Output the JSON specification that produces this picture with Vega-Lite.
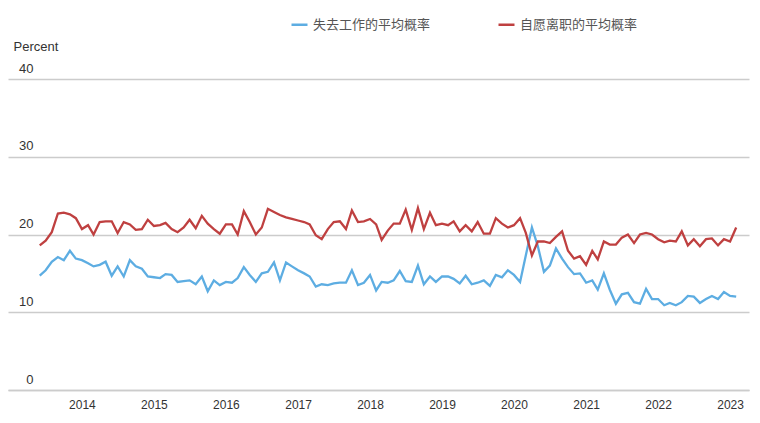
{
  "$schema": "https://vega.github.io/schema/vega-lite/v6.json",
  "autosize": {"type": "none"},
  "width": 741,
  "height": 311,
  "padding": {"left": 8, "top": 79, "right": 11, "bottom": 33},
  "background": "white",
  "config": {
    "view": {"stroke": null},
    "font": "Liberation Sans"
  },
  "datasets": {
    "years": [
      {"year": "2014-01-01"}, {"year": "2015-01-01"}, {"year": "2016-01-01"}, {"year": "2017-01-01"}, {"year": "2018-01-01"},
      {"year": "2019-01-01"}, {"year": "2020-01-01"}, {"year": "2021-01-01"}, {"year": "2022-01-01"}, {"year": "2023-01-01"}
    ],
    "probs": [
      {"date": "2013-06-01", "lose": 14.7, "quit": 18.6},
      {"date": "2013-07-01", "lose": 15.4, "quit": 19.2},
      {"date": "2013-08-01", "lose": 16.5, "quit": 20.3},
      {"date": "2013-09-01", "lose": 17.1, "quit": 22.7},
      {"date": "2013-10-01", "lose": 16.7, "quit": 22.8},
      {"date": "2013-11-01", "lose": 17.9, "quit": 22.6},
      {"date": "2013-12-01", "lose": 16.9, "quit": 22.1},
      {"date": "2014-01-01", "lose": 16.7, "quit": 20.7},
      {"date": "2014-02-01", "lose": 16.3, "quit": 21.2},
      {"date": "2014-03-01", "lose": 15.9, "quit": 20.0},
      {"date": "2014-04-01", "lose": 16.1, "quit": 21.6},
      {"date": "2014-05-01", "lose": 16.5, "quit": 21.7},
      {"date": "2014-06-01", "lose": 14.7, "quit": 21.7},
      {"date": "2014-07-01", "lose": 15.9, "quit": 20.2},
      {"date": "2014-08-01", "lose": 14.6, "quit": 21.6},
      {"date": "2014-09-01", "lose": 16.7, "quit": 21.3},
      {"date": "2014-10-01", "lose": 15.9, "quit": 20.6},
      {"date": "2014-11-01", "lose": 15.6, "quit": 20.7},
      {"date": "2014-12-01", "lose": 14.6, "quit": 21.9},
      {"date": "2015-01-01", "lose": 14.5, "quit": 21.1},
      {"date": "2015-02-01", "lose": 14.4, "quit": 21.2},
      {"date": "2015-03-01", "lose": 14.9, "quit": 21.5},
      {"date": "2015-04-01", "lose": 14.8, "quit": 20.7},
      {"date": "2015-05-01", "lose": 13.9, "quit": 20.3},
      {"date": "2015-06-01", "lose": 14.0, "quit": 20.9},
      {"date": "2015-07-01", "lose": 14.1, "quit": 21.9},
      {"date": "2015-08-01", "lose": 13.6, "quit": 20.8},
      {"date": "2015-09-01", "lose": 14.6, "quit": 22.4},
      {"date": "2015-10-01", "lose": 12.7, "quit": 21.4},
      {"date": "2015-11-01", "lose": 14.1, "quit": 20.7},
      {"date": "2015-12-01", "lose": 13.5, "quit": 20.1},
      {"date": "2016-01-01", "lose": 13.9, "quit": 21.3},
      {"date": "2016-02-01", "lose": 13.8, "quit": 21.3},
      {"date": "2016-03-01", "lose": 14.4, "quit": 20.0},
      {"date": "2016-04-01", "lose": 15.8, "quit": 23.0},
      {"date": "2016-05-01", "lose": 14.8, "quit": 21.6},
      {"date": "2016-06-01", "lose": 13.9, "quit": 20.0},
      {"date": "2016-07-01", "lose": 15.0, "quit": 20.9},
      {"date": "2016-08-01", "lose": 15.2, "quit": 23.3},
      {"date": "2016-09-01", "lose": 16.4, "quit": 22.9},
      {"date": "2016-10-01", "lose": 14.1, "quit": 22.5},
      {"date": "2016-11-01", "lose": 16.4, "quit": 22.2},
      {"date": "2016-12-01", "lose": 15.9, "quit": 22.0},
      {"date": "2017-01-01", "lose": 15.4, "quit": 21.8},
      {"date": "2017-02-01", "lose": 15.0, "quit": 21.6},
      {"date": "2017-03-01", "lose": 14.6, "quit": 21.3},
      {"date": "2017-04-01", "lose": 13.3, "quit": 19.9},
      {"date": "2017-05-01", "lose": 13.6, "quit": 19.4},
      {"date": "2017-06-01", "lose": 13.5, "quit": 20.7},
      {"date": "2017-07-01", "lose": 13.7, "quit": 21.6},
      {"date": "2017-08-01", "lose": 13.8, "quit": 21.7},
      {"date": "2017-09-01", "lose": 13.8, "quit": 20.7},
      {"date": "2017-10-01", "lose": 15.4, "quit": 23.1},
      {"date": "2017-11-01", "lose": 13.5, "quit": 21.6},
      {"date": "2017-12-01", "lose": 13.8, "quit": 21.7},
      {"date": "2018-01-01", "lose": 14.8, "quit": 22.0},
      {"date": "2018-02-01", "lose": 12.8, "quit": 21.3},
      {"date": "2018-03-01", "lose": 13.9, "quit": 19.3},
      {"date": "2018-04-01", "lose": 13.8, "quit": 20.5},
      {"date": "2018-05-01", "lose": 14.1, "quit": 21.4},
      {"date": "2018-06-01", "lose": 15.3, "quit": 21.4},
      {"date": "2018-07-01", "lose": 14.0, "quit": 23.2},
      {"date": "2018-08-01", "lose": 13.9, "quit": 20.6},
      {"date": "2018-09-01", "lose": 16.0, "quit": 23.4},
      {"date": "2018-10-01", "lose": 13.6, "quit": 20.7},
      {"date": "2018-11-01", "lose": 14.6, "quit": 22.8},
      {"date": "2018-12-01", "lose": 13.9, "quit": 21.2},
      {"date": "2019-01-01", "lose": 14.6, "quit": 21.4},
      {"date": "2019-02-01", "lose": 14.6, "quit": 21.2},
      {"date": "2019-03-01", "lose": 14.3, "quit": 21.7},
      {"date": "2019-04-01", "lose": 13.7, "quit": 20.4},
      {"date": "2019-05-01", "lose": 14.7, "quit": 21.2},
      {"date": "2019-06-01", "lose": 13.6, "quit": 20.4},
      {"date": "2019-07-01", "lose": 13.8, "quit": 21.6},
      {"date": "2019-08-01", "lose": 14.1, "quit": 20.1},
      {"date": "2019-09-01", "lose": 13.4, "quit": 20.1},
      {"date": "2019-10-01", "lose": 14.8, "quit": 22.1},
      {"date": "2019-11-01", "lose": 14.5, "quit": 21.4},
      {"date": "2019-12-01", "lose": 15.4, "quit": 20.9},
      {"date": "2020-01-01", "lose": 14.8, "quit": 21.2},
      {"date": "2020-02-01", "lose": 13.9, "quit": 22.1},
      {"date": "2020-03-01", "lose": 17.3, "quit": 20.2},
      {"date": "2020-04-01", "lose": 20.9, "quit": 17.3},
      {"date": "2020-05-01", "lose": 18.5, "quit": 19.1},
      {"date": "2020-06-01", "lose": 15.2, "quit": 19.1},
      {"date": "2020-07-01", "lose": 16.0, "quit": 18.9},
      {"date": "2020-08-01", "lose": 18.2, "quit": 19.7},
      {"date": "2020-09-01", "lose": 16.9, "quit": 20.4},
      {"date": "2020-10-01", "lose": 15.8, "quit": 17.9},
      {"date": "2020-11-01", "lose": 14.9, "quit": 16.9},
      {"date": "2020-12-01", "lose": 15.0, "quit": 17.2},
      {"date": "2021-01-01", "lose": 13.8, "quit": 16.1},
      {"date": "2021-02-01", "lose": 14.1, "quit": 17.9},
      {"date": "2021-03-01", "lose": 12.9, "quit": 16.8},
      {"date": "2021-04-01", "lose": 15.0, "quit": 19.1},
      {"date": "2021-05-01", "lose": 12.9, "quit": 18.7},
      {"date": "2021-06-01", "lose": 11.1, "quit": 18.7},
      {"date": "2021-07-01", "lose": 12.3, "quit": 19.6},
      {"date": "2021-08-01", "lose": 12.5, "quit": 20.0},
      {"date": "2021-09-01", "lose": 11.3, "quit": 18.9},
      {"date": "2021-10-01", "lose": 11.1, "quit": 20.0},
      {"date": "2021-11-01", "lose": 13.0, "quit": 20.2},
      {"date": "2021-12-01", "lose": 11.7, "quit": 20.0},
      {"date": "2022-01-01", "lose": 11.7, "quit": 19.4},
      {"date": "2022-02-01", "lose": 10.9, "quit": 19.0},
      {"date": "2022-03-01", "lose": 11.2, "quit": 19.2},
      {"date": "2022-04-01", "lose": 10.9, "quit": 19.1},
      {"date": "2022-05-01", "lose": 11.3, "quit": 20.4},
      {"date": "2022-06-01", "lose": 12.1, "quit": 18.6},
      {"date": "2022-07-01", "lose": 12.0, "quit": 19.4},
      {"date": "2022-08-01", "lose": 11.2, "quit": 18.5},
      {"date": "2022-09-01", "lose": 11.7, "quit": 19.4},
      {"date": "2022-10-01", "lose": 12.1, "quit": 19.5},
      {"date": "2022-11-01", "lose": 11.7, "quit": 18.6},
      {"date": "2022-12-01", "lose": 12.6, "quit": 19.4},
      {"date": "2023-01-01", "lose": 12.1, "quit": 19.1},
      {"date": "2023-02-01", "lose": 12.0, "quit": 20.9}
    ]
  },
  "layer": [
    {
      "data": {"name": "years"},
      "mark": {"type": "rule", "color": "#b8b8b8", "strokeWidth": 1},
      "encoding": {
        "x": {"field": "year", "type": "temporal"},
        "y": {"datum": 0.15, "type": "quantitative"},
        "y2": {"datum": 1.1}
      }
    },
    {
      "data": {"name": "probs"},
      "transform": [
        {"fold": ["lose", "quit"], "as": ["series", "value"]}
      ],
      "mark": {"type": "line", "strokeWidth": 2.3, "interpolate": "linear"},
      "encoding": {
        "x": {"field": "date", "type": "temporal"},
        "y": {"field": "value", "type": "quantitative"},
        "color": {
          "field": "series",
          "type": "nominal",
          "scale": {"domain": ["lose", "quit"], "range": ["#5dade2", "#bf4040"]},
          "legend": {
            "orient": "none",
            "legendX": 282,
            "legendY": -64,
            "direction": "horizontal",
            "title": null,
            "symbolType": "stroke",
            "symbolStrokeWidth": 2.5,
            "symbolSize": 256,
            "labelFontSize": 13,
            "labelColor": "#555555",
            "labelFont": "Noto Sans CJK SC",
            "labelOffset": 4,
            "columnPadding": 62,
            "labelExpr": "datum.value == 'lose' ? '失去工作的平均概率' : '自愿离职的平均概率'"
          }
        }
      }
    }
  ],
  "encoding": {
    "x": {
      "field": "date",
      "type": "temporal",
      "scale": {"domain": ["2012-12-22", "2023-04-07"], "nice": false},
      "axis": {
        "title": null,
        "format": "%Y",
        "values": ["2014-01-01", "2015-01-01", "2016-01-01", "2017-01-01", "2018-01-01", "2019-01-01", "2020-01-01", "2021-01-01", "2022-01-01", "2023-01-01"],
        "grid": false,
        "domain": true,
        "domainColor": "#cccccc",
        "domainWidth": 1.5,
        "ticks": false,
        "labelPadding": 9,
        "labelFontSize": 12,
        "labelColor": "#333333",
        "labelFont": "Liberation Sans"
      }
    },
    "y": {
      "field": "value",
      "type": "quantitative",
      "scale": {"domain": [0, 40], "nice": false},
      "axis": {
        "title": "Percent",
        "titleAngle": 0,
        "titleX": 5,
        "titleY": -29,
        "titleAlign": "left",
        "titleBaseline": "alphabetic",
        "titleFontSize": 13,
        "titleFontWeight": "normal",
        "titleColor": "#333333",
        "titleFont": "Liberation Sans",
        "values": [0, 10, 20, 30, 40],
        "domain": false,
        "ticks": false,
        "tickSize": 0,
        "grid": true,
        "gridColor": "#cccccc",
        "gridWidth": 1.5,
        "labelPadding": -25,
        "labelAlign": "right",
        "labelBaseline": "alphabetic",
        "labelOffset": -7,
        "labelFontSize": 13,
        "labelColor": "#333333",
        "labelFont": "Liberation Sans"
      }
    }
  }
}
